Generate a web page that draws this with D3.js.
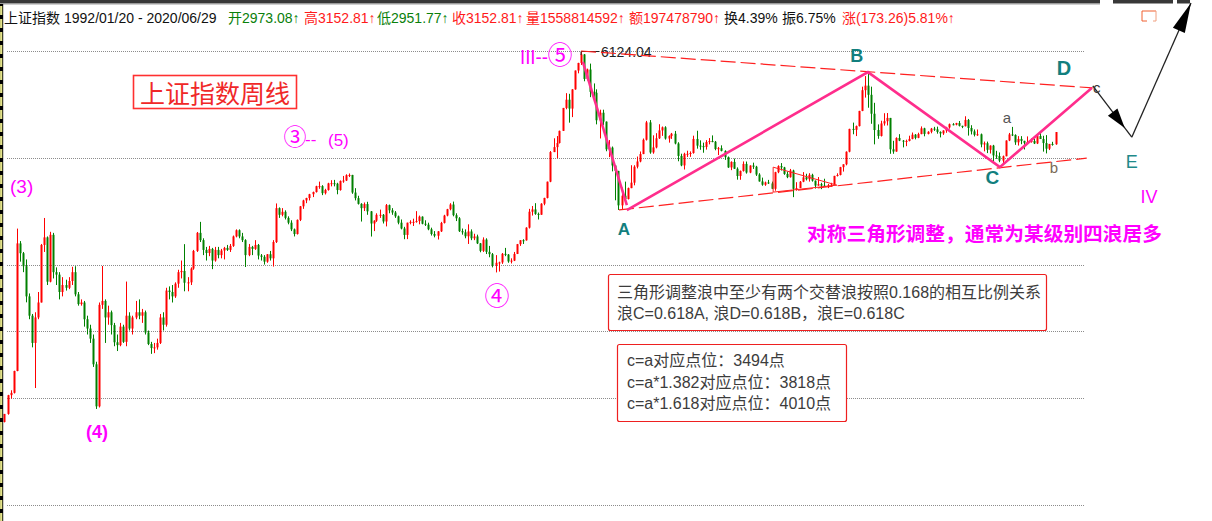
<!DOCTYPE html>
<html><head><meta charset="utf-8">
<script src="https://cdn.jsdelivr.net/npm/d3@7/dist/d3.min.js"></script>
<style>
html,body{margin:0;padding:0;background:#fff;}
svg{display:block;}
text{font-family:"Liberation Sans","Noto Sans CJK SC",sans-serif;}
.cjk{font-family:"Noto Sans CJK SC","Liberation Sans",sans-serif;}
</style></head><body>
<svg id="chart" width="1212" height="521"></svg>
<script>
// ---------------- DATA ----------------
// Monthly candles [open, high, low, close], starting January 1992
const bars1990s = [
 [293,313,292,313],[313,366,311,365],[365,380,355,372],[372,446,370,445],[445,1429,444,1266],[1266,1290,1090,1168],[1168,1180,1000,1050],[1050,1110,781,820],[820,840,680,700],[700,710,540,560],[560,720,387,690],[690,850,680,780],
 [780,1260,780,1250],[1250,1559,1180,1330],[1330,1340,900,925],[925,1392,920,1358],[1358,1380,950,1000],[1000,1040,900,980],[980,1000,800,850],[850,960,820,900],[900,940,860,880],[880,960,870,930],[930,1045,900,1000],[1000,1050,820,834],
 [834,850,760,770],[770,800,760,780],[780,790,640,680],[680,700,600,630],[630,650,560,580],[580,600,460,470],[470,480,326,333],[333,780,330,765],[765,1052,740,790],[790,800,560,690],[690,760,650,720],[720,730,600,648],
 [648,660,545,563],[563,600,524,550],[550,660,545,640],[640,650,560,565],[565,926,545,700],[700,720,620,630],[630,700,600,690],[690,790,680,720],[720,800,680,700],[700,740,660,720],[720,730,600,610],[610,620,550,555],
 [555,565,512,537],[537,560,515,540],[540,580,530,560],[560,710,555,690],[690,720,620,650],[650,880,640,860],[860,890,800,850],[850,900,780,820],[820,920,810,910],[910,1020,880,1000],[1000,1100,950,1010],[1010,1258,855,917],
 [917,960,855,920],[920,1040,900,1030],[1030,1200,1020,1190],[1190,1390,1180,1380],[1380,1510,1280,1300],[1300,1320,1150,1200],[1200,1230,1100,1170],[1170,1240,1140,1210],[1210,1220,1025,1100],[1100,1230,1090,1200],[1200,1230,1120,1150],[1150,1210,1120,1194],
 [1194,1230,1110,1220],[1220,1250,1190,1200],[1200,1260,1180,1240],[1240,1350,1230,1340],[1340,1420,1330,1410],[1410,1420,1320,1340],[1340,1380,1280,1300],[1300,1310,1043,1150],[1150,1260,1140,1230],[1230,1240,1150,1210],[1210,1300,1200,1250],[1250,1260,1110,1146],
 [1146,1160,1100,1134],[1134,1150,1064,1090],[1090,1160,1080,1158],[1158,1190,1100,1120],[1120,1300,1047,1280],[1280,1756,1270,1690],[1690,1700,1560,1600],[1600,1690,1580,1640],[1640,1660,1540,1560],[1560,1580,1480,1500],[1500,1530,1400,1420],[1420,1430,1340,1367]
];
const bars2000s = [
 [1367,1540,1361,1535],[1535,1720,1520,1715],[1715,1810,1680,1800],[1800,1840,1760,1836],[1836,1900,1800,1894],[1894,1935,1850,1928],[1928,2030,1920,2023],[2023,2100,1980,2024],[2024,2040,1880,1910],[1910,1980,1890,1961],[1961,2080,1950,2070],[2070,2125,2020,2073],
 [2073,2130,2020,2065],[2065,2080,1893,1960],[1960,2120,1950,2112],[2112,2200,2080,2119],[2119,2230,2110,2214],[2214,2245,2180,2218],[2218,2220,1900,1920],[1920,1990,1800,1834],[1834,1870,1740,1750],[1750,1760,1514,1690],[1690,1770,1650,1747],[1747,1780,1600,1646],
 [1646,1650,1339,1490],[1490,1530,1400,1525],[1525,1620,1510,1600],[1600,1670,1560,1600],[1600,1610,1490,1515],[1515,1748,1455,1732],[1732,1740,1620,1660],[1660,1690,1600,1630],[1630,1650,1560,1580],[1580,1590,1480,1500],[1500,1540,1420,1430],[1430,1450,1310,1357],
 [1357,1500,1311,1500],[1500,1530,1480,1510],[1510,1550,1460,1510],[1510,1649,1500,1520],[1520,1590,1480,1576],[1576,1580,1480,1487],[1487,1530,1460,1476],[1476,1500,1410,1421],[1421,1440,1350,1367],[1367,1400,1330,1348],[1348,1400,1307,1397],[1397,1510,1390,1497],
 [1497,1600,1490,1590],[1590,1680,1580,1675],[1675,1760,1660,1741],[1741,1783,1580,1595],[1595,1620,1520,1555],[1555,1570,1390,1399],[1399,1430,1360,1386],[1386,1420,1320,1342],[1342,1480,1260,1396],[1396,1420,1300,1320],[1320,1370,1300,1340],[1340,1360,1259,1266],
 [1266,1270,1177,1191],[1191,1330,1180,1306],[1306,1320,1160,1181],[1181,1240,1130,1159],[1159,1170,1040,1060],[1060,1150,998,1080],[1080,1090,1005,1083],[1083,1170,1070,1162],[1162,1220,1140,1155],[1155,1160,1080,1092],[1092,1120,1074,1099],[1099,1180,1095,1161],
 [1161,1260,1160,1258],[1258,1300,1240,1299],[1299,1310,1260,1298],[1298,1445,1295,1440],[1440,1680,1430,1641],[1641,1720,1590,1672],[1672,1760,1600,1612],[1612,1630,1540,1601],[1601,1760,1600,1752],[1752,1840,1730,1837],[1837,2100,1830,2099],[2099,2698,2090,2675],
 [2675,2995,2675,2786],[2786,3050,2541,2881],[2881,3190,2870,3183],[3183,3841,3180,3841],[3841,4335,3800,4109],[4109,4312,3404,3820],[3820,4480,3563,4471],[4471,5218,4460,5218],[5218,5560,5100,5552],[5552,6124.04,5462,5954],[5954,5970,4778,4871],[4871,5300,4812,5262],
 [5262,5523,4196,4383],[4383,4695,4123,4348],[4348,4473,3357,3472],[3472,3786,2990,3693],[3693,3786,3333,3433],[3433,3438,2693,2736],[2736,2952,2566,2775],[2775,2800,2284,2397],[2397,2400,1802,2293],[2293,2293,1664.93,1729],[1729,2000,1678,1871],[1871,2100,1814,1821],
 [1821,2000,1814,1991],[1991,2402,1990,2082],[2082,2402,2037,2373],[2373,2579,2340,2477],[2477,2688,2460,2632],[2632,2990,2630,2959],[2959,3454,2940,3412],[3412,3478,2639,2667],[2667,3069,2639,2779],[2779,3123,2758,2995],[2995,3361,2979,3195],[3195,3299,3055,3277]
];
const bars2010s = [
 [3277,3306,2963,2989],[2989,3069,2890,3051],[3051,3130,2980,3109],[3109,3181,2850,2870],[2870,2900,2481,2592],[2592,2640,2382,2398],[2398,2660,2319,2637],[2637,2705,2570,2638],[2638,2690,2573,2655],[2655,3060,2640,2979],[2979,3186,2751,2820],[2820,2945,2726,2808],
 [2808,2890,2661,2790],[2790,2950,2730,2905],[2905,3000,2850,2928],[2928,3067,2900,2911],[2911,2930,2715,2743],[2743,2790,2610,2762],[2762,2827,2690,2701],[2701,2714,2510,2567],[2567,2580,2350,2359],[2359,2480,2307,2468],[2468,2536,2330,2333],[2333,2360,2134,2199],
 [2199,2300,2132,2292],[2292,2478,2280,2428],[2428,2476,2242,2262],[2262,2400,2250,2396],[2396,2453,2330,2373],[2373,2390,2200,2225],[2225,2250,2100,2103],[2103,2170,2030,2047],[2047,2100,2029,2086],[2086,2130,2060,2069],[2069,2100,1975,1980],[1980,2276,1949,2269],
 [2269,2400,2250,2385],[2385,2444,2300,2359],[2359,2370,2220,2237],[2237,2280,2160,2178],[2178,2330,2170,2300],[2300,2315,1849,1979],[1979,2090,1950,1993],[1993,2110,1990,2098],[2098,2270,2090,2175],[2175,2240,2120,2141],[2141,2250,2100,2220],[2220,2240,2100,2116],
 [2116,2120,1984,2033],[2033,2180,2030,2056],[2056,2080,1974,2033],[2033,2150,2010,2026],[2026,2060,1991,2039],[2039,2080,2010,2048],[2048,2202,2040,2201],[2201,2248,2190,2217],[2217,2370,2210,2364],[2364,2420,2280,2420],[2420,2690,2400,2683],[2683,3239,2670,3234],
 [3234,3406,3095,3210],[3210,3325,3050,3310],[3310,3750,3300,3748],[3748,4572,3740,4442],[4442,4986,4180,4611],[4611,5178.19,3847,4277],[4277,4572,3373,3663],[3663,4006,2850,3205],[3205,3356,2983,3053],[3053,3459,3039,3382],[3382,3678,3322,3445],[3445,3684,3327,3539],
 [3539,3539,2638,2737],[2737,2934,2638,2687],[2687,3019,2682,3003],[3003,3098,2926,2938],[2938,2952,2780,2917],[2917,2962,2808,2930],[2930,3059,2920,2979],[2979,3140,2970,3085],[3085,3100,2969,3005],[3005,3135,2997,3100],[3100,3301,3096,3250],[3250,3265,3044,3104],
 [3104,3174,3092,3159],[3159,3260,3120,3241],[3241,3290,3182,3223],[3223,3295,3110,3155],[3155,3170,3017,3117],[3117,3199,3079,3192],[3192,3290,3133,3273],[3273,3380,3240,3361],[3361,3391,3330,3349],[3349,3400,3330,3393],[3393,3451,3300,3317],[3317,3320,3255,3307],
 [3307,3587,3300,3481],[3481,3509,3062,3259],[3259,3334,3091,3169],[3169,3220,3041,3082],[3082,3219,3055,3095],[3095,3114,2782,2847],[2847,2916,2691,2876],[2876,2915,2653,2725],[2725,2827,2644,2821],[2821,2838,2449,2603],[2603,2703,2531,2588],[2588,2667,2462,2494],
 [2494,2600,2440.91,2585],[2585,2945,2585,2941],[2941,3129,2926,3091],[3091,3288,3050,3078],[3078,3094,2838,2898],[2898,3049,2822,2979],[2979,3048,2853,2932],[2932,2936,2733,2886],[2886,3042,2880,2905],[2905,2994,2890,2929],[2929,2983,2857,2871],[2871,3060,2857,3050]
];
const bars2020s = [
 [3050,3127,2977,2977],[2977,3058,2685,2880],[2880,3074,2646,2750],[2750,2860,2720,2860],[2860,2910,2820,2852],[2852,3152.81,2840,3152.81]
];
const firstBarYear = 1992;

// Horizontal reference (grid) levels
const gridLevels = [6124.04, 2546, 1058, 616, 358, 149];

// Wave annotations  [date, index value]
const peakPoint  = ["2007-10-16", 6124.04];
const pinkWaveA  = [["2007-11-03", 5600], ["2009-01-05", 1731]];
const pinkWaveBCD = [["2009-01-05", 1662], ["2015-06-13", 5150], ["2018-12-20", 2364], ["2021-06-03", 4520]];
const upperTrend = [["2007-10-16", 6124.04], ["2021-06-13", 4524]];
const lowerTrend = [["2008-10-20", 1664.93], ["2021-04-15", 2546]];
const smallTriangle = [["2012-12-01", 2364], ["2014-08-14", 2040], ["2012-12-01", 1927]];
const pointA = ["2008-10-28", 1664.93];
const pointB = ["2015-06-12", 5178.19];
const pointC = ["2019-01-04", 2440.91];
const pointc = ["2021-06-13", 4600];
const pointE = ["2022-06-28", 3022];
const pointBreak = ["2024-01-26", 9080];

// Header
const headerName = "上证指数";
const headerRange = "1992/01/20 - 2020/06/29";
const headerItems = ["开2973.08↑","高3152.81↑","低2951.77↑","收3152.81↑","量1558814592↑","额197478790↑","换4.39%","振6.75%","涨(173.26)5.81%↑"];
const headerTone  = ["down","up","down","up","up","up","flat","flat","up"];

// Notes
const titleText = "上证指数周线";
const noteTriangle = "对称三角形调整，通常为某级别四浪居多";
const note1 = ["三角形调整浪中至少有两个交替浪按照0.168的相互比例关系", "浪C=0.618A, 浪D=0.618B，浪E=0.618C"];
const note2 = ["c=a对应点位：3494点", "c=a*1.382对应点位：3818点", "c=a*1.618对应点位：4010点"];

// ---------------- CHART ----------------
const svg = d3.select("#chart");
const parse = d3.utcParse("%Y-%m-%d");
const allBars = bars1990s.concat(bars2000s, bars2010s, bars2020s).map((b, i) => ({
  date: new Date(Date.UTC(firstBarYear, i, 15)), o: b[0], h: b[1], l: b[2], c: b[3]
}));

const x = d3.scaleUtc()
  .domain([parse("1992-01-20"), parse("2007-10-16"), parse("2020-06-29")])
  .range([5, 581, 1057]);
const y = d3.scaleLog().domain([325.89, 6124.04]).range([409, 51]);
const P = p => [x(parse(p[0])), y(p[1])];

const RED = "#ff0000", GREEN = "#008000", MAG = "#ff00ff", TEAL = "#127f7e";

svg.append("rect").attr("width", 1212).attr("height", 521).attr("fill", "#fff");

// grid lines
svg.append("g").selectAll("line").data(gridLevels).join("line")
  .attr("x1", 7).attr("x2", 1085)
  .attr("y1", d => Math.round(y(d)) + 0.5).attr("y2", d => Math.round(y(d)) + 0.5)
  .attr("stroke", "#8c8c8c").attr("stroke-width", 1).attr("stroke-dasharray", "1,1");

// candles
const cg = svg.append("g");
cg.selectAll("line").data(allBars).join("line")
  .attr("x1", d => Math.round(x(d.date)) + 0.5).attr("x2", d => Math.round(x(d.date)) + 0.5)
  .attr("y1", d => y(d.h)).attr("y2", d => y(d.l))
  .attr("stroke", d => d.c >= d.o ? RED : GREEN).attr("stroke-width", 1);
cg.selectAll("rect").data(allBars).join("rect")
  .attr("x", d => Math.round(x(d.date)) - 0.5).attr("width", 2)
  .attr("y", d => Math.min(y(d.o), y(d.c)))
  .attr("height", d => Math.max(1, Math.abs(y(d.o) - y(d.c))))
  .attr("fill", d => d.c >= d.o ? RED : GREEN);

// peak marker
const pk = P(peakPoint);
svg.append("path").attr("d", `M${pk[0]},${pk[1]+4}V${pk[1]+0.5}H${pk[0]+18}`)
  .attr("fill", "none").attr("stroke", "#222").attr("stroke-width", 1);
svg.append("text").attr("x", pk[0] + 20).attr("y", pk[1] + 6).attr("font-size", 14).attr("fill", "#222").text("6124.04");

const line = d3.line();
[upperTrend, lowerTrend].forEach(t => {
  svg.append("path").attr("d", line(t.map(P))).attr("fill", "none")
    .attr("stroke", "#ff2020").attr("stroke-width", 1.2).attr("stroke-dasharray", "15,5");
});
svg.append("path").attr("d", line(smallTriangle.map(P)) + "Z").attr("fill", "none")
  .attr("stroke", "#ff2020").attr("stroke-width", 1);

[pinkWaveA, pinkWaveBCD].forEach(w => {
  svg.append("path").attr("d", line(w.map(P))).attr("fill", "none")
    .attr("stroke", "#ff2d8c").attr("stroke-width", 2.6).attr("stroke-linejoin", "miter");
});

function arrow(p0, p1, tipFrac, len, half) {
  svg.append("line").attr("x1", p0[0]).attr("y1", p0[1]).attr("x2", p1[0]).attr("y2", p1[1])
    .attr("stroke", "#222").attr("stroke-width", 1.3);
  const dx = p1[0] - p0[0], dy = p1[1] - p0[1], L = Math.hypot(dx, dy);
  const ux = dx / L, uy = dy / L;
  const tx = p0[0] + dx * tipFrac, ty = p0[1] + dy * tipFrac;
  const bx = tx - ux * len, by = ty - uy * len;
  svg.append("path").attr("d", `M${tx},${ty}L${bx - uy * half},${by + ux * half}L${bx + uy * half},${by - ux * half}Z`)
    .attr("fill", "#000");
}
const pc = P(pointc), pE = P(pointE), pBr = P(pointBreak);
arrow(pc, pE, 0.82, 20, 6);
arrow(pE, pBr, 1, 30, 6.5);

// header
svg.append("rect").attr("x", 0).attr("y", 0).attr("width", 1100).attr("height", 3.5).attr("fill", "#383838");
svg.append("rect").attr("x", 1113).attr("y", 0).attr("width", 60).attr("height", 3.5).attr("fill", "#383838");
svg.append("rect").attr("x", 1177).attr("y", 0).attr("width", 13).attr("height", 3.5).attr("fill", "#383838");
svg.append("line").attr("x1", 0).attr("x2", 1100).attr("y1", 4.5).attr("y2", 4.5).attr("stroke", "#cfcfcf");
svg.append("path").attr("d", "M1156,11H1142V21H1147").attr("fill", "none").attr("stroke", "#f06030").attr("stroke-width", 1);
svg.append("path").attr("d", "M1153,21H1156V11").attr("fill", "none").attr("stroke", "#f0a080").attr("stroke-width", 1);
const hx = [228, 304, 377, 452, 526, 629, 724, 782, 842];
const toneColor = {up: "#ff1a1a", down: "#0a800a", flat: "#111"};
svg.append("text").attr("x", 4).attr("y", 23).attr("font-size", 14).attr("fill", "#111").text(headerName);
svg.append("text").attr("x", 64).attr("y", 23).attr("font-size", 14).attr("fill", "#111").text(headerRange);
headerItems.forEach((t, i) => {
  svg.append("text").attr("x", hx[i]).attr("y", 23).attr("font-size", 14)
    .attr("fill", toneColor[headerTone[i]]).text(t);
});

// left border strip
svg.append("rect").attr("x", 0).attr("y", 4).attr("width", 3.2).attr("height", 517).attr("fill", "#000");
svg.append("line").attr("x1", 1.2).attr("x2", 1.2).attr("y1", 6).attr("y2", 521)
  .attr("stroke", "#e4e48a").attr("stroke-width", 2.2).attr("stroke-dasharray", "9,4");

function label(txt, xx, yy, size, color, opts = {}) {
  const t = svg.append("text").attr("x", xx).attr("y", yy).attr("font-size", size).attr("fill", color).text(txt);
  if (opts.bold) t.attr("font-weight", "bold");
  if (opts.cls) t.attr("class", opts.cls);
  if (opts.anchor) t.attr("text-anchor", opts.anchor);
  if (opts.len) t.attr("textLength", opts.len).attr("lengthAdjust", "spacingAndGlyphs");
  return t;
}
label("(3)", 10, 193, 19, MAG);
label("③", 295, 145, 23, MAG, {cls: "cjk", anchor: "middle"});
label("--", 305, 145, 17, MAG);
label("(5)", 328, 146, 17, MAG);
label("(4)", 86, 438, 18, MAG, {bold: true});
label("④", 497, 305, 25, MAG, {cls: "cjk", anchor: "middle"});
label("III--", 520, 64, 20, MAG, {len: 28});
label("⑤", 560, 64, 25, MAG, {cls: "cjk", anchor: "middle"});

const pA = P(pointA), pB = P(pointB), pC = P(pointC);
label("A", pA[0] + 4, pA[1] + 25, 17, TEAL, {bold: true, anchor: "middle"});
label("B", pB[0] - 11, pB[1] - 9, 18, TEAL, {bold: true, anchor: "middle"});
label("C", pC[0] - 9, pC[1] + 21, 19, TEAL, {bold: true, anchor: "middle"});
label("D", 1064, 75, 20, TEAL, {bold: true, anchor: "middle"});
label("E", pE[0], pE[1] + 31, 18, "#1f8a8a", {anchor: "middle"});
label("IV", 1149, 203, 18, MAG, {anchor: "middle"});
label("a", 1007, 123, 15, "#555", {anchor: "middle"});
label("b", 1054, 173, 15, "#7a6a58", {anchor: "middle"});
label("c", pc[0] + 4, pc[1] + 7, 15, "#333", {anchor: "middle"});

svg.append("rect").attr("x", 133.5).attr("y", 75.5).attr("width", 163).attr("height", 33)
  .attr("fill", "#fff").attr("stroke", "#ff3030").attr("stroke-width", 1.6);
label(titleText, 215, 103, 25, "#f02828", {cls: "cjk", anchor: "middle", len: 150});

label(noteTriangle, 807, 241, 19.5, MAG, {cls: "cjk", bold: true, len: 355});

svg.append("rect").attr("x", 608.5).attr("y", 274.5).attr("width", 438).attr("height", 56).attr("rx", 2)
  .attr("fill", "#fff").attr("stroke", "#ee2020").attr("stroke-width", 1.2);
note1.forEach((t, i) => label(t, 617, 298 + i * 21, 16, "#3c3c3c"));
svg.append("rect").attr("x", 617.5).attr("y", 344.5).attr("width", 229).attr("height", 77).attr("rx", 2)
  .attr("fill", "#fff").attr("stroke", "#ee2020").attr("stroke-width", 1.2);
note2.forEach((t, i) => label(t, 627, 366 + i * 21.5, 16, "#3c3c3c"));
</script>
</body></html>
